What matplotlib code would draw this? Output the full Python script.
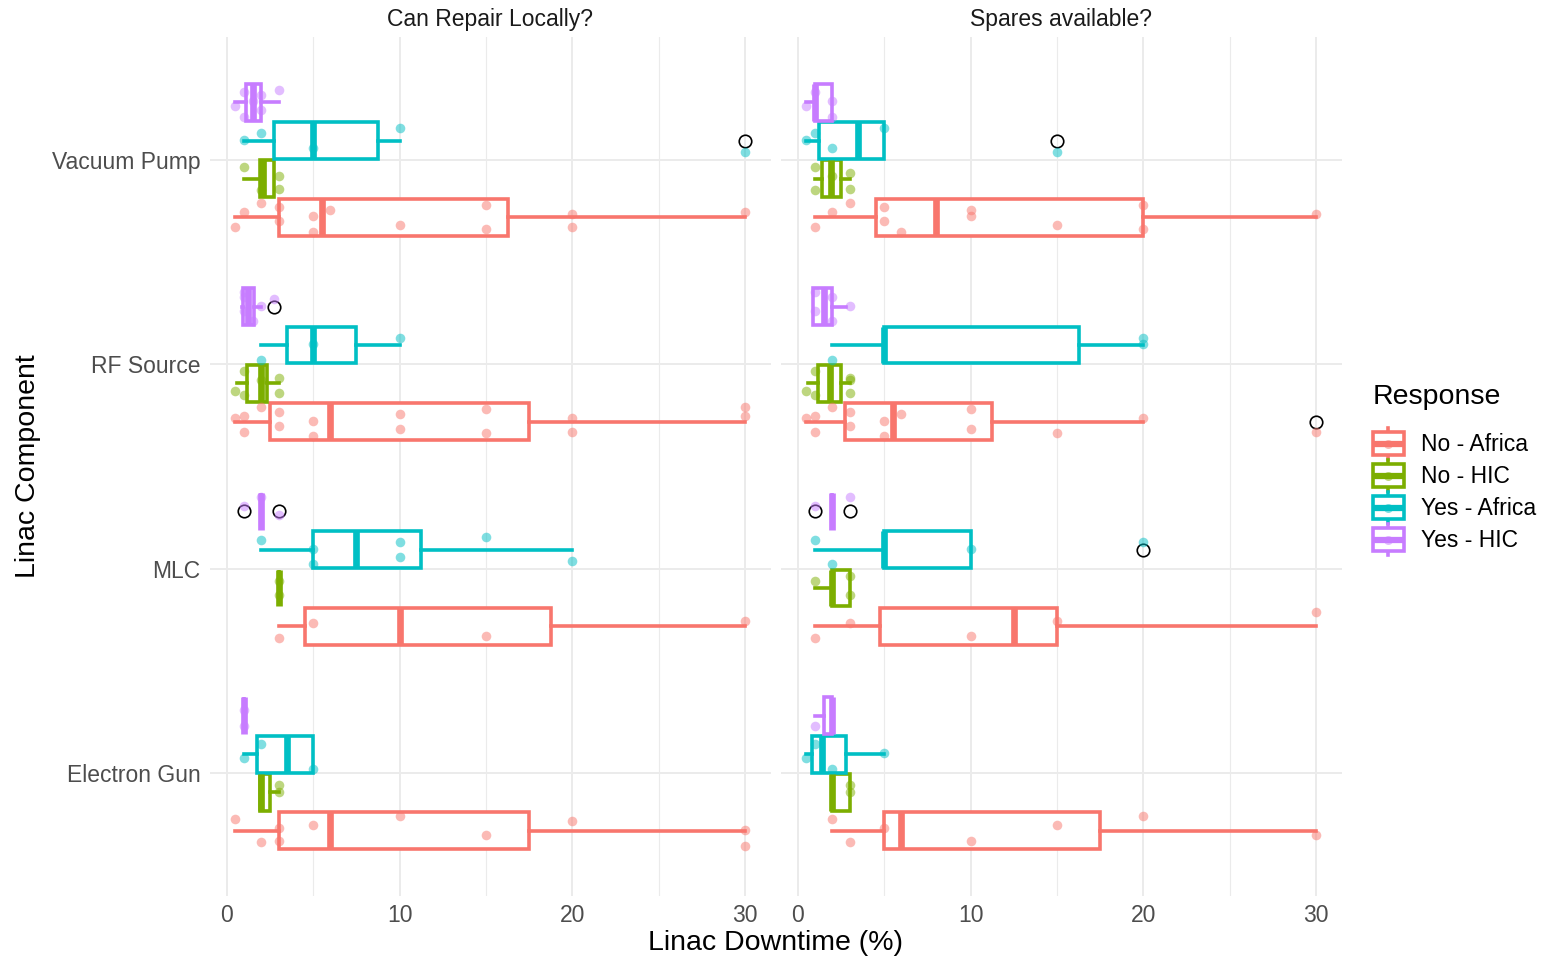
import numpy as np
import matplotlib
matplotlib.use("Agg")
from matplotlib import pyplot as plt
from matplotlib.legend_handler import HandlerBase
from matplotlib.lines import Line2D
from matplotlib.patches import Rectangle, Patch

plt.rcParams['font.family'] = ['Liberation Sans', 'DejaVu Sans']

components = ["Vacuum Pump", "RF Source", "MLC", "Electron Gun"]
responses = ["No - Africa", "No - HIC", "Yes - Africa", "Yes - HIC"]
colors = ["#F8766D", "#7CAE00", "#00BFC4", "#C77CFF"]
facets = ["Can Repair Locally?", "Spares available?"]
x_ticks = [0, 10, 20, 30]

# box stats, rows = components, cols = responses
repair_lo = [[0.5, 1, 1, 0.5], [0.5, 0.6, 2, 0.9], [3, 3, 2, 2], [0.5, 1.9, 1, 1]]
repair_q1 = [[3, 1.9, 2.75, 1.1], [2.5, 1.15, 3.5, 0.95], [4.5, 3, 5, 2], [3, 1.9, 1.75, 1]]
repair_med = [[5.5, 2.1, 5, 1.5], [6, 2, 5, 1.2], [10, 3, 7.5, 2], [6, 2, 3.5, 1]]
repair_q3 = [[16.25, 2.75, 8.75, 2], [17.5, 2.3, 7.5, 1.6], [18.75, 3, 11.25, 2], [17.5, 2.5, 5, 1]]
repair_hi = [[30, 2.75, 10, 3], [30, 3, 10, 2], [30, 3, 20, 2], [30, 3, 5, 1]]
repair_out = [[[], [], [30], []], [[], [], [], [2.75]], [[], [], [], [1, 3]], [[], [], [], []]]
repair_pts = [
    [[0.5, 1, 2, 3, 3, 5, 5, 6, 10, 15, 15, 20, 20, 30], [1, 2, 3, 3], [1, 2, 5, 10, 30], [0.5, 1, 1, 1.5, 2, 2, 3]],
    [[0.5, 1, 1, 2, 3, 3, 5, 5, 10, 10, 15, 15, 20, 20, 30, 30], [0.5, 1, 1, 2, 3, 3], [2, 5, 10], [1, 1, 1, 1.5, 2, 2.75]],
    [[3, 5, 15, 30], [3, 3], [2, 5, 5, 10, 10, 15, 20], [1, 2, 3]],
    [[0.5, 2, 3, 3, 5, 10, 15, 20, 30, 30], [3, 3], [1, 2, 5], [1, 1]],
]

spares_lo = [[1, 1, 0.5, 0.5], [0.5, 0.6, 2, 0.9], [1, 1, 1, 2], [2, 2, 0.5, 1]]
spares_q1 = [[4.5, 1.4, 1.25, 1], [2.75, 1.15, 5, 0.9], [4.75, 2, 5, 2], [5, 2, 0.8, 1.5]]
spares_med = [[8, 1.9, 3.5, 1], [5.5, 1.85, 5, 1.5], [12.5, 2, 5, 2], [6, 2, 1.4, 2]]
spares_q3 = [[20, 2.5, 5, 2], [11.25, 2.5, 16.25, 2], [15, 3, 10, 2], [17.5, 3, 2.8, 2]]
spares_hi = [[30, 3, 5, 2], [20, 3, 20, 2.8], [30, 3, 10, 2], [30, 3, 5, 2]]
spares_out = [[[], [], [15], []], [[30], [], [], []], [[], [], [20], [1, 3]], [[], [], [], []]]
spares_pts = [
    [[1, 2, 3, 5, 5, 6, 10, 10, 15, 20, 20, 30], [1, 1, 2, 3, 3], [0.5, 1, 2, 5, 15], [0.5, 1, 2, 2]],
    [[0.5, 1, 1, 2, 3, 3, 5, 5, 6, 10, 10, 15, 20, 30], [0.5, 1, 1, 3, 3, 3], [2, 20, 20], [1, 1, 2, 2, 3]],
    [[1, 3, 10, 15, 30], [1, 3, 3], [1, 2, 10, 20], [1, 3]],
    [[2, 3, 5, 10, 15, 20, 30], [3, 3], [0.5, 1, 2, 5], [1]],
]

panels = [
    (repair_lo, repair_q1, repair_med, repair_q3, repair_hi, repair_out, repair_pts),
    (spares_lo, spares_q1, spares_med, spares_q3, spares_hi, spares_out, spares_pts),
]

DODGE = 0.1875
JITTER = np.array([-0.6, 0.35, 0.9, -0.25, 0.6, -0.9, 0.05, 0.45, -0.45, 0.75, -0.7, 0.2]) * 0.08
GRID = "#EBEBEB"
LW = 2.6


class BoxKey(HandlerBase):
    # ggplot-like boxplot legend glyph
    def create_artists(self, legend, orig_handle, xdescent, ydescent,
                       width, height, fontsize, trans):
        c = orig_handle.get_edgecolor()
        x0, y0 = -xdescent, -ydescent
        cx, cy = x0 + width / 2, y0 + height / 2
        stub = height * 0.15
        arts = [
            Line2D([cx, cx], [y0 - stub, y0 + height + stub], color=c, lw=LW, transform=trans),
            Rectangle((x0, y0), width, height, facecolor="white", edgecolor=c, lw=LW, transform=trans),
            Line2D([x0, x0 + width], [cy, cy], color=c, lw=4.5, solid_capstyle="butt", transform=trans),
            Line2D([cx], [cy], marker="o", ms=6.5, color=c, alpha=0.5, mew=0, transform=trans),
        ]
        return arts


fig = plt.figure(figsize=(15.44, 9.59), dpi=100)
ax_pos = [[0.136, 0.0657, 0.3631, 0.8957], [0.5058, 0.0657, 0.3631, 0.8957]]

for p, (lo, q1, med, q3, hi, out, pts) in enumerate(panels):
    ax = fig.add_axes(ax_pos[p])
    ax.set_xlim(-0.975, 31.475)
    ax.set_ylim(0.4, 4.6)
    ycat = np.arange(len(components), 0, -1)
    for j, c in enumerate(responses):
        col = colors[j]
        stats = []
        for i in range(len(components)):
            stats.append(dict(whislo=lo[i][j], q1=q1[i][j], med=med[i][j],
                              q3=q3[i][j], whishi=hi[i][j], fliers=out[i][j]))
        pos = ycat + (j - 1.5) * DODGE
        ax.bxp(stats, positions=pos, widths=0.18, orientation="horizontal",
               patch_artist=True, showcaps=False, manage_ticks=False,
               boxprops=dict(facecolor="white", edgecolor=col, linewidth=LW),
               whiskerprops=dict(color=col, linewidth=LW),
               medianprops=dict(color=col, linewidth=4.8, solid_capstyle="butt"),
               flierprops=dict(marker="o", markerfacecolor="none", markeredgecolor="black",
                               markersize=9, markeredgewidth=1.2))
        for i in range(len(components)):
            v = np.array(pts[i][j], dtype=float)
            jit = np.resize(np.roll(JITTER, i + 3 * j), len(v))
            ax.scatter(v, pos[i] + jit, s=48, color=col, alpha=0.5, lw=0, zorder=3)

    ax.set_xticks(x_ticks)
    ax.set_xticks([5, 15, 25], minor=True)
    ax.set_yticks(ycat)
    if p == 0:
        ax.set_yticklabels(components)
    else:
        ax.set_yticklabels([])
    ax.grid(True, which="major", color=GRID, lw=1.4)
    ax.grid(True, which="minor", axis="x", color=GRID, lw=0.8)
    ax.set_axisbelow(True)
    for s in ax.spines.values():
        s.set_visible(False)
    ax.tick_params(which="both", length=0)
    ax.tick_params(axis="x", pad=6, labelsize=16.5, labelcolor="#4D4D4D")
    ax.tick_params(axis="y", pad=7, labelsize=16.5, labelcolor="#4D4D4D")
    ax.set_title(facets[p], fontsize=16.5, color="#1A1A1A", pad=8)

fig.text(0.5025, 1 - 943 / 959, "Linac Downtime (%)", fontsize=20.5, ha="center", va="center")
fig.text(0.018, 1 - 466 / 959, "Linac Component", fontsize=20.5, rotation=90, ha="center", va="center")

handles = [Patch(facecolor="white", edgecolor=c) for c in colors]
leg = fig.legend(handles, responses, loc="upper left", bbox_to_anchor=(0.889, 0.600),
                 frameon=False, title="Response", title_fontsize=20.5, fontsize=16.5,
                 handler_map={Patch: BoxKey()}, handlelength=1.35, handleheight=1.2,
                 handletextpad=0.75, labelspacing=0.33, borderpad=0, borderaxespad=0,
                 alignment="left")
leg._legend_box.sep = 16  # gap between title and keys

fig.savefig("out.png", dpi=100)
